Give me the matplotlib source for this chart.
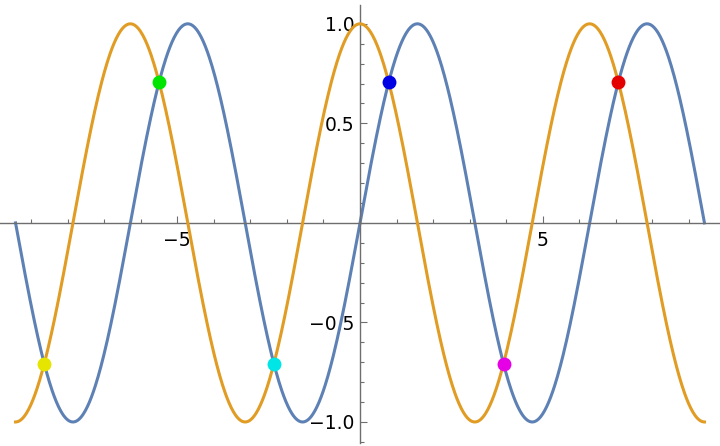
import numpy as np
import matplotlib

matplotlib.use("Agg")
import matplotlib.pyplot as plt
from matplotlib.ticker import MultipleLocator, FixedLocator

# plotted functions over [-3pi, 3pi]
x_min, x_max = -3 * np.pi, 3 * np.pi
x = np.linspace(x_min, x_max, 1000)
sin_y = np.sin(x)
cos_y = np.cos(x)

# intersection points of sin and cos
pt_x = [-11 * np.pi / 4, -7 * np.pi / 4, -3 * np.pi / 4, np.pi / 4, 5 * np.pi / 4, 9 * np.pi / 4]
pt_y = [-0.7071, 0.7071, -0.7071, 0.7071, -0.7071, 0.7071]
pt_colors = ["#E5E500", "#00E500", "#00E5E5", "#0000E5", "#E500E5", "#E50000"]

x_ticks = [-5, 5]
y_ticks = [-1.0, -0.5, 0.5, 1.0]

fig = plt.figure(figsize=(7.2, 4.46), dpi=100)
ax = fig.add_axes([0, 0.007, 1, 0.982])

ax.plot(x, sin_y, color="#5E81B5", lw=2.2, zorder=2)
ax.plot(x, cos_y, color="#E19C24", lw=2.2, zorder=3)
for px, py, c in zip(pt_x, pt_y, pt_colors):
    ax.plot(px, py, "o", color=c, ms=10, mec="none", zorder=4)

ax.set_xlim(-9.85, 9.85)
ax.set_ylim(-1.105, 1.095)

for side in ["top", "right"]:
    ax.spines[side].set_visible(False)
ax.spines["left"].set_position("zero")
ax.spines["bottom"].set_position("zero")
for side in ["left", "bottom"]:
    ax.spines[side].set_color("#6E6E6E")
    ax.spines[side].set_linewidth(1.0)

ax.xaxis.set_major_locator(FixedLocator(x_ticks))
ax.xaxis.set_minor_locator(MultipleLocator(1))
ax.yaxis.set_major_locator(FixedLocator(y_ticks))
ax.yaxis.set_minor_locator(MultipleLocator(0.1))
ax.set_xticklabels(["\u22125", "5"])
ax.set_yticklabels(["\u22121.0", "\u22120.5", "0.5", "1.0"])

ax.tick_params(axis="x", which="major", direction="in", length=5, width=0.8,
               color="#6E6E6E", labelsize=13.5, pad=6)
ax.tick_params(axis="x", which="minor", direction="in", length=3, width=0.8, color="#6E6E6E")
ax.tick_params(axis="y", which="major", direction="in", length=5, width=0.8,
               color="#6E6E6E", labelsize=13.5, pad=4)
ax.tick_params(axis="y", which="minor", direction="in", length=3, width=0.8, color="#6E6E6E")

plt.savefig("out.png", dpi=100)
